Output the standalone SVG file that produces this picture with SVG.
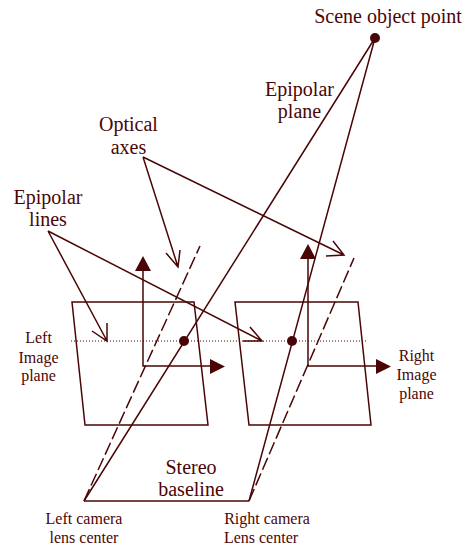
<svg xmlns="http://www.w3.org/2000/svg" width="463" height="549" viewBox="0 0 463 549">
<style>
text{font-family:"Liberation Serif","Times New Roman",serif;fill:#4a0606;text-anchor:middle}
.l{font-size:20px}.s{font-size:16px}
.ln{fill:none;stroke:#4a0606;stroke-width:1.5;stroke-linejoin:miter}
.d{stroke-dasharray:13 4}
.dot{fill:#4a0606}
</style>
<rect width="463" height="549" fill="#fff"/>
<g id="left-image-plane"><path class="ln" d="M72 302H194L208 425H85Z"/><text class="s" x="38.500" y="343">Left</text><text class="s" x="38.500" y="363">Image</text><text class="s" x="38.500" y="381">plane</text></g>
<g id="right-image-plane"><path class="ln" d="M235 302H358L371 425H249Z"/><text class="s" x="416.500" y="361">Right</text><text class="s" x="416.500" y="380">Image</text><text class="s" x="416.500" y="399">plane</text></g>
<g id="connectors">
<path d="M71 341H368" fill="none" stroke="#4a0606" stroke-width="1" stroke-dasharray="1 2"/>
<path class="ln" d="M84 501H249"/>
<path class="ln" d="M84 501L375 38M249 501L375 38"/>
<path class="ln d" d="M84 501L200 246M249 501L354 258"/>
<path class="ln" d="M143 270V366H212"/><path class="dot" d="M135 271L143 256L151 271ZM210 359L225 366.500L210 374Z"/>
<path class="ln" d="M308 258V366H377"/><path class="dot" d="M300 259L308 244L316 259ZM376 359L391 366.500L376 374Z"/>
<path class="ln" d="M143 157L178 267M166 253L178 267L180 250M143 157L344 255M326 256L344 255L333 241"/>
<path class="ln" d="M48 231L107 341M92 331L107 341L107 323M48 231L262 341M243 341L262 341L250 327"/>
</g>
<g id="scene-point"><circle class="dot" cx="375" cy="38" r="5"/><text class="l" x="388" y="23">Scene object point</text></g>
<g id="left-epipole"><circle class="dot" cx="184" cy="341" r="5"/></g>
<g id="right-epipole"><circle class="dot" cx="292" cy="341" r="5"/></g>
<g id="epipolar-plane-label"><text class="l" x="299.500" y="96">Epipolar</text><text class="l" x="299.500" y="118">plane</text></g>
<g id="optical-axes-label"><text class="l" x="128.500" y="131">Optical</text><text class="l" x="128.500" y="154">axes</text></g>
<g id="epipolar-lines-label"><text class="l" x="48" y="204">Epipolar</text><text class="l" x="48" y="226">lines</text></g>
<g id="stereo-baseline-label"><text class="l" x="191" y="474">Stereo</text><text class="l" x="191" y="496">baseline</text></g>
<g id="left-camera"><text class="s" x="84" y="524">Left camera</text><text class="s" x="84" y="543">lens center</text></g>
<g id="right-camera"><text class="s" x="267" y="524">Right camera</text><text class="s" x="261" y="543">Lens center</text></g>
</svg>
